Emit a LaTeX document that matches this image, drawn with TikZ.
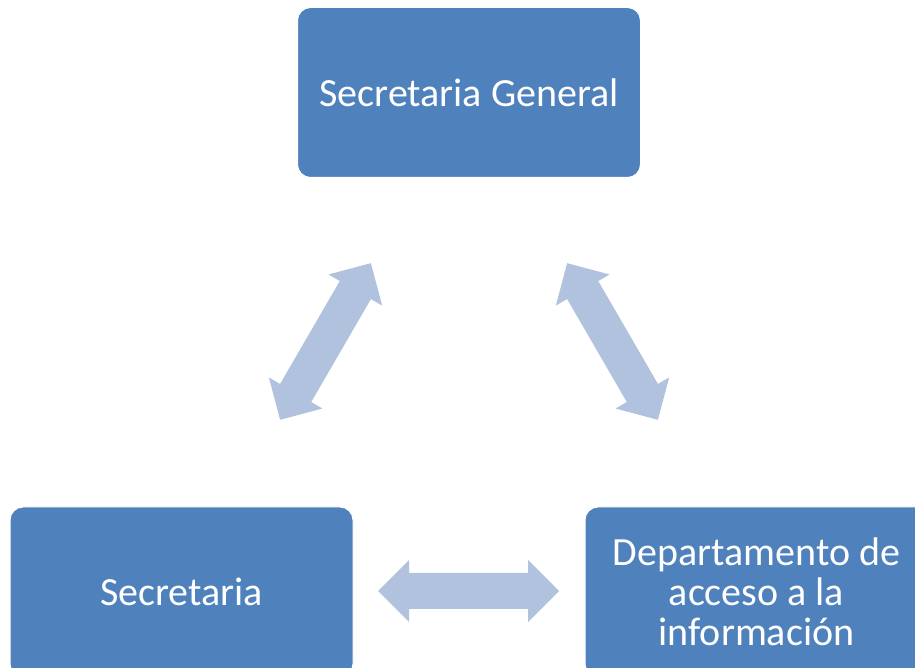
\documentclass[tikz,border=0pt]{standalone}
\usepackage{fontspec}
\setmainfont{Carlito}
\definecolor{boxblue}{RGB}{79,129,189}
\definecolor{arrowblue}{RGB}{176,194,222}
\tikzset{
  orgbox/.style={fill=boxblue, draw=white, line width=1pt, rounded corners=13pt,
    minimum width=343pt, minimum height=170pt, text=white, align=center,
    font=\fontsize{40}{40}\selectfont, inner sep=0pt},
  dblarrow/.pic={\fill[arrowblue] (-90.5,0) -- (-59.5,31) -- (-59.5,18) -- (59.5,18)
    -- (59.5,31) -- (90.5,0) -- (59.5,-31) -- (59.5,-18) -- (-59.5,-18) -- (-59.5,-31) -- cycle;}
}
\begin{document}
\begin{tikzpicture}[x=1pt,y=1pt]
\useasboundingbox (0,0) rectangle (915,668);
\clip (0,0) rectangle (915,668);
\fill[white] (0,0) rectangle (915,668);
\node[orgbox] (sg) at (469,575.5) {Secretaria General};
\node[orgbox] (sec) at (181.5,76) {Secretaria};
\node[orgbox] (dai) at (756.5,76) {Departamento de\\acceso a la\\información};
\pic[rotate=59.9] at (325.5,326.5) {dblarrow};
\pic[rotate=120.1] at (612.5,326.5) {dblarrow};
\pic at (468.5,77) {dblarrow};
\end{tikzpicture}
\end{document}
